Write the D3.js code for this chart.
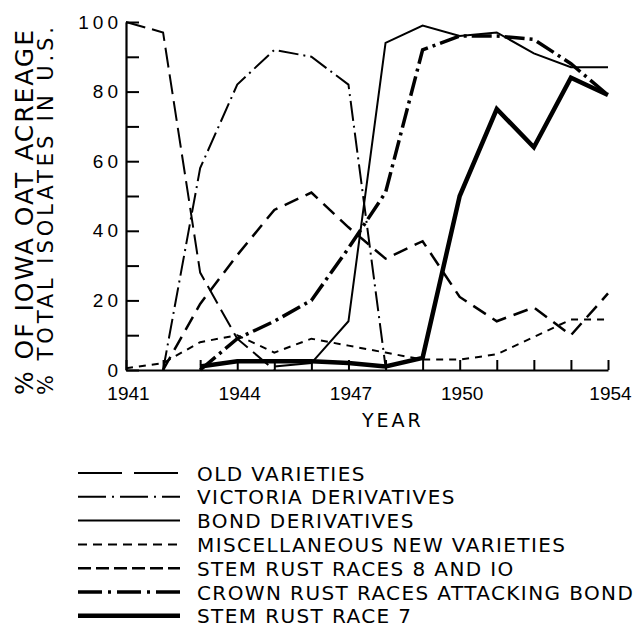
<!DOCTYPE html>
<html>
<head>
<meta charset="utf-8">
<script src="https://cdn.jsdelivr.net/npm/d3@7"></script>
<style>
  body { margin: 0; background: #fff; }
  svg { font-family: "DejaVu Sans", sans-serif; }
</style>
</head>
<body>
<svg id="chart" width="642" height="629"></svg>
<script>
// values, one array per series (percent)
var years = [1941, 1942, 1943, 1944, 1945, 1946, 1947, 1948, 1949, 1950, 1951, 1952, 1953, 1954];
var xLabelYears = [1941, 1944, 1947, 1950, 1954];
var yLabelValues = [0, 20, 40, 60, 80, 100];

var oldYears = [1941, 1942, 1943, 1944, 1945];
var oldVarieties = [100, 97, 28, 9, 0];

var victoriaYears = [1942, 1943, 1944, 1945, 1946, 1947, 1948];
var victoria = [0, 58, 82, 92, 90, 82, 1];

var bondYears = [1945, 1946, 1947, 1948, 1949, 1950, 1951, 1952, 1953, 1954];
var bond = [1, 2, 14, 94, 99, 96, 97, 91, 87, 87];

var miscYears = years;
var misc = [0.5, 2, 8, 10, 5, 9, 7, 5, 3, 3, 4.5, 9.5, 14.5, 14.5];

var stem810Years = [1942, 1943, 1944, 1945, 1946, 1947, 1948, 1949, 1950, 1951, 1952, 1953, 1954];
var stem810 = [0, 19, 33, 46, 51, 41, 32, 37, 21, 14, 18, 10, 22];

var crownYears = [1943, 1944, 1945, 1946, 1947, 1948, 1949, 1950, 1951, 1952, 1953, 1954];
var crown = [0, 9, 14, 20, 35, 51, 92, 96, 96, 95, 88, 79];

var stem7Years = [1943, 1944, 1945, 1946, 1947, 1948, 1949, 1950, 1951, 1952, 1953, 1954];
var stem7 = [1, 2.5, 2.5, 2.5, 2, 1, 3.5, 50, 75, 64, 84, 79];

var legendNames = [
  "OLD  VARIETIES",
  "VICTORIA DERIVATIVES",
  "BOND DERIVATIVES",
  "MISCELLANEOUS NEW VARIETIES",
  "STEM RUST RACES 8 AND IO",
  "CROWN RUST RACES ATTACKING BOND",
  "STEM RUST RACE 7"
];

var svg = d3.select("#chart");

var x = d3.scaleLinear().domain([1941, 1954]).range([126, 608]);
var y = d3.scaleLinear().domain([0, 100]).range([370, 22]);

// styles per series, same order as the legend
var series = [
  { xs: oldYears, vs: oldVarieties, width: 2, dash: "20,7", legendDash: "44,12" },
  { xs: victoriaYears, vs: victoria, width: 2, dash: "20,5,2,5", legendDash: "28,6,2,6" },
  { xs: bondYears, vs: bond, width: 2, dash: null, legendDash: null },
  { xs: miscYears, vs: misc, width: 2, dash: "7,6", legendDash: "9,6" },
  { xs: stem810Years, vs: stem810, width: 2.5, dash: "15,8", legendDash: "13,5" },
  { xs: crownYears, vs: crown, width: 3.5, dash: "20,5,3,5", legendDash: "24,6,3,6" },
  { xs: stem7Years, vs: stem7, width: 4.5, dash: null, legendDash: null }
];

// axes, ticks pointing into the plot
var xAxis = d3.axisBottom(x)
  .tickValues(years)
  .tickSizeInner(-10)
  .tickSizeOuter(0)
  .tickPadding(17)
  .tickFormat(function(d) { return xLabelYears.indexOf(d) >= 0 ? d : ""; });

var yAxis = d3.axisLeft(y)
  .tickValues(d3.range(0, 101, 10))
  .tickSizeInner(-13)
  .tickSizeOuter(0)
  .tickPadding(4)
  .tickFormat(function(d) { return yLabelValues.indexOf(d) >= 0 ? d : ""; });

var gx = svg.append("g").attr("transform", "translate(0,370)").call(xAxis);
var gy = svg.append("g").attr("transform", "translate(126,0)").call(yAxis);

svg.selectAll(".domain").attr("stroke", "#000").attr("stroke-width", 2.2);
svg.selectAll(".tick line").attr("stroke", "#000").attr("stroke-width", 2);
gx.selectAll(".tick text")
  .attr("font-size", 19)
  .attr("fill", "#000")
  .attr("dx", 2);
gy.selectAll(".tick text")
  .attr("font-size", 19)
  .attr("letter-spacing", 4)
  .attr("fill", "#000");

// axis titles
svg.append("text")
  .attr("x", 362)
  .attr("y", 427)
  .attr("font-size", 19)
  .attr("letter-spacing", 3)
  .text("YEAR");

svg.append("text")
  .attr("transform", "translate(33,395) rotate(-90)")
  .attr("font-size", 25)
  .attr("textLength", 365)
  .attr("lengthAdjust", "spacing")
  .text("% OF IOWA OAT ACREAGE");

svg.append("text")
  .attr("transform", "translate(53,395) rotate(-90)")
  .attr("font-size", 21)
  .attr("textLength", 368)
  .attr("lengthAdjust", "spacing")
  .text("% TOTAL ISOLATES IN U.S.");

// lines
var line = d3.line()
  .x(function(d) { return x(d[0]); })
  .y(function(d) { return y(d[1]); });

series.forEach(function(s) {
  var pts = s.xs.map(function(yr, i) { return [yr, s.vs[i]]; });
  svg.append("path")
    .attr("d", line(pts))
    .attr("fill", "none")
    .attr("stroke", "#000")
    .attr("stroke-width", s.width)
    .attr("stroke-dasharray", s.dash);
});

// legend
var legend = svg.append("g");
series.forEach(function(s, i) {
  var base = 480.5 + i * 23.8;
  legend.append("line")
    .attr("x1", 78).attr("x2", 180)
    .attr("y1", base - 7.5).attr("y2", base - 7.5)
    .attr("stroke", "#000")
    .attr("stroke-width", s.width)
    .attr("stroke-dasharray", s.legendDash);
  legend.append("text")
    .attr("x", 197)
    .attr("y", base)
    .attr("font-size", 20)
    .attr("letter-spacing", 1.4)
    .text(legendNames[i]);
});
</script>
</body>
</html>
